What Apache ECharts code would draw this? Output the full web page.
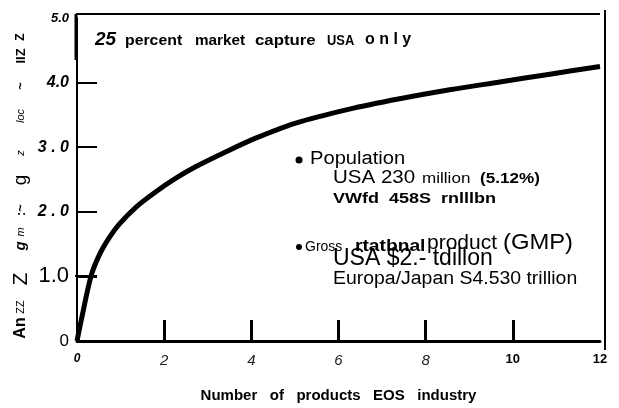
<!DOCTYPE html>
<html><head><meta charset="utf-8">
<script src="https://cdn.jsdelivr.net/npm/echarts@6/dist/echarts.min.js"></script>
<style>html,body{margin:0;padding:0;background:#fff}#c{width:619px;height:408px}</style>
</head><body><div id="c"></div>
<script>
const xValues = [0, 0.1, 0.32, 0.51, 0.74, 0.97, 1.35, 1.81, 2.27, 2.73, 3.42, 4.1, 5.0, 6.25, 7.4, 8.55, 9.7, 10.85, 12];
const yValues = [0, 0.33, 1.0, 1.33, 1.6, 1.81, 2.07, 2.31, 2.52, 2.70, 2.93, 3.14, 3.37, 3.59, 3.75, 3.89, 4.01, 4.13, 4.25];
const xTickLabels = ['0', '2', '4', '6', '8', '10', '12'];
const yTickLabels = ['0', '1.0', '2 . 0', '3 . 0', '4.0', '5.0'];
const xTickMarks = [2, 4, 6, 8, 10];
const yTickMarks = [1, 2, 3, 4];

const F = '"Liberation Sans", Arial, sans-serif';
const chart = echarts.init(document.getElementById('c'));
const xStyles = ['x0', 'xi', 'xi', 'xi', 'xi', 'xb', 'xb'];
const yStyles = ['y0', 'y1', 'yb', 'yb', 'yb', 'y5'];

function txt(t, x, y, fs, opts) {
  opts = opts || {};
  return {
    type: 'text', x: x, y: y, scaleX: opts.sx || 1,
    style: { text: t, x: 0, y: 0, fontSize: fs, fontWeight: opts.fw || 'normal', fontStyle: opts.fst || 'normal',
      fill: '#000', fontFamily: F, align: 'left', verticalAlign: 'top' }
  };
}

chart.setOption({
  animation: false,
  backgroundColor: '#fff',
  grid: { left: 77, right: 19, top: 18, bottom: 67, show: false },
  xAxis: {
    type: 'value', min: 0, max: 12, interval: 2,
    axisLine: { lineStyle: { color: '#000', width: 3 } },
    axisTick: { show: true, inside: true, length: 21, customValues: xTickMarks, lineStyle: { color: '#000', width: 3 } },
    splitLine: { show: false },
    axisLabel: {
      margin: 12, fontFamily: F,
      formatter: v => { const i = Math.round(v / 2); return '{' + xStyles[i] + '|' + xTickLabels[i] + '}'; },
      rich: {
        x0: { fontSize: 12, fontWeight: 'bold', fontStyle: 'italic', color: '#000', fontFamily: F },
        xi: { fontSize: 15, fontStyle: 'italic', color: '#222', fontFamily: F },
        xb: { fontSize: 13, fontWeight: 'bold', color: '#000', fontFamily: F }
      }
    },
    name: 'Number   of   products   EOS   industry',
    nameLocation: 'middle', nameGap: 47,
    nameTextStyle: { fontSize: 15, fontWeight: 'bold', color: '#000', fontFamily: F }
  },
  yAxis: {
    type: 'value', min: 0, max: 5, interval: 1,
    axisLine: { show: true, lineStyle: { color: '#000', width: 2 } },
    axisTick: { show: true, inside: true, length: 20, customValues: yTickMarks, lineStyle: { color: '#000', width: 2 } },
    splitLine: { show: false },
    axisLabel: {
      margin: 8, fontFamily: F,
      formatter: v => { const i = Math.round(v); return '{' + yStyles[i] + '|' + yTickLabels[i] + '}'; },
      rich: {
        y0: { fontSize: 17, color: '#000', fontFamily: F },
        y1: { fontSize: 22, color: '#000', fontFamily: F },
        yb: { fontSize: 16, fontWeight: 'bold', fontStyle: 'italic', color: '#000', fontFamily: F },
        y5: { fontSize: 13, fontWeight: 'bold', fontStyle: 'italic', color: '#000', fontFamily: F }
      }
    }
  },
  series: [{
    type: 'line', smooth: 0.3, showSymbol: false,
    data: xValues.map((x, i) => [x, yValues[i]]),
    lineStyle: { color: '#000', width: 5 }
  }],
  graphic: [
    { type: 'line', shape: { x1: 76, y1: 14, x2: 600, y2: 14 }, style: { stroke: '#000', lineWidth: 2 } },
    { type: 'line', shape: { x1: 605, y1: 10, x2: 605, y2: 350 }, style: { stroke: '#000', lineWidth: 2 } },
    { type: 'line', shape: { x1: 76, y1: 14, x2: 76, y2: 60 }, style: { stroke: '#000', lineWidth: 3 } },
    { type: 'line', shape: { x1: 75, y1: 276, x2: 97, y2: 276 }, style: { stroke: '#000', lineWidth: 2 } },
    // top caption
    txt('25', 95, 31, 18, { fw: 'bold', fst: 'italic', sx: 1.05 }),
    txt('percent', 125, 34, 14, { fw: 'bold', sx: 1.13 }),
    txt('market', 195, 34, 14, { fw: 'bold', sx: 1.09 }),
    txt('capture', 255, 34, 14, { fw: 'bold', sx: 1.2 }),
    txt('USA', 327, 34, 14, { fw: 'bold', sx: 0.92 }),
    txt('o n l y', 365, 32, 16, { fw: 'bold' }),
    // population block
    { type: 'circle', shape: { cx: 299, cy: 160, r: 3.5 }, style: { fill: '#000' } },
    txt('Population', 310, 150, 18, { sx: 1.12 }),
    txt('USA 230', 333, 169, 18, { sx: 1.14 }),
    txt('million', 422, 172, 14, { sx: 1.22 }),
    txt('(5.12%)', 480, 171, 15, { fw: 'bold', sx: 1.14 }),
    txt('VWfd  458S  rnlllbn', 333, 191, 15, { fw: 'bold', sx: 1.2 }),
    // GMP block
    { type: 'circle', shape: { cx: 299, cy: 247, r: 3 }, style: { fill: '#000' } },
    txt('Gross', 305, 240, 14),
    txt('rtatbnal', 355, 238, 17, { fw: 'bold', sx: 1.13 }),
    txt('product', 427, 233, 21),
    txt('(GMP)', 503, 232, 22, { sx: 1.08 }),
    txt('USA $2.- tdillon', 333, 247, 23),
    txt('Europa/Japan S4.530 trillion', 333, 270, 18, { sx: 1.08 }),
    // garbled rotated y-axis title pieces
    ...[
      ['An', 328, 16, 'bold', 'normal'],
      ['ZZ', 307, 11, 'normal', 'normal'],
      ['Z', 279, 21, 'normal', 'normal'],
      ['g', 246, 15, 'bold', 'italic'],
      ['m', 232, 11, 'normal', 'italic'],
      [':~', 210, 13, 'bold', 'normal'],
      ['g', 180, 19, 'normal', 'normal'],
      ['z', 153, 11, 'normal', 'italic'],
      ['loc', 116, 11, 'normal', 'italic'],
      ['~', 86, 13, 'bold', 'normal'],
      ['IIZ', 56, 13, 'bold', 'normal'],
      ['Z', 37, 12, 'bold', 'normal']
    ].map(([t, y, fs, fw, fst]) => ({
      type: 'text', x: 21, y: y, rotation: Math.PI / 2,
      style: { text: t, fontSize: fs, fontWeight: fw, fontStyle: fst, fill: '#000', fontFamily: F, align: 'center', verticalAlign: 'middle' }
    }))
  ]
});
</script></body></html>
